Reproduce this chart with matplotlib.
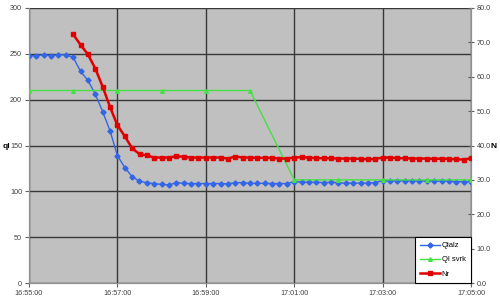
import matplotlib
matplotlib.use("Agg")
import matplotlib.pyplot as plt
import matplotlib.dates as mdates
from datetime import datetime, timedelta

plt.rcParams['font.family'] = ['Liberation Sans', 'DejaVu Sans']

start = datetime(2000, 1, 1, 16, 55, 0)

# Qlalz: every 10 s from 16:55:00 (left axis, ql)
qlalz = [248, 248, 249, 248, 249, 249, 246, 231, 221, 206,
         187, 166, 139, 126, 116, 111, 109.5, 108.4, 107.6, 107,
         109.5, 108.7, 108.5, 108.5, 108.5, 108.5, 108.5, 108.2, 109.5, 109.5,
         108.7, 108.7, 108.7, 108.5, 108.5, 108.5, 110.5, 110.2, 109.8, 109.8,
         109.5, 109.8, 109.5, 108.7, 109, 109, 109, 109.5, 111.6, 111.6,
         111.3, 111.6, 111.3, 111.3, 111.3, 111.3, 111, 111, 110.5, 110.5,
         110.5]
qlalz_sec = [10 * i for i in range(len(qlalz))]

# Nr: every 10 s from 16:56:00 (right axis, N)
nr = [72.3, 69.3, 66.5, 62.4, 57.1, 51.2, 45.9, 42.7, 39.2, 37.5,
      37.1, 36.5, 36.5, 36.5, 36.9, 36.7, 36.5, 36.5, 36.5, 36.5,
      36.5, 36.2, 36.8, 36.5, 36.5, 36.4, 36.4, 36.4, 36.2, 36.2,
      36.5, 36.6, 36.5, 36.3, 36.3, 36.3, 36.2, 36.2, 36.2, 36.1,
      36.0, 36.1, 36.5, 36.5, 36.3, 36.3, 36.2, 36.2, 36.2, 36.1,
      36.2, 36.1, 36.0, 35.9, 36.3]
nr_sec = [60 + 10 * i for i in range(len(nr))]

# Ql svrk: every 60 s from 16:55:00 (right axis)
qlsvrk = [56, 56, 56, 56, 56, 56, 30, 30, 30, 30, 30]
qlsvrk_sec = [60 * i for i in range(len(qlsvrk))]

t_q = [start + timedelta(seconds=s) for s in qlalz_sec]
t_n = [start + timedelta(seconds=s) for s in nr_sec]
t_g = [start + timedelta(seconds=s) for s in qlsvrk_sec]

fig = plt.figure(figsize=(5.0, 3.01), dpi=100)
ax = fig.add_axes([29/500, 18/301, 442/500, 275/301])
ax.set_facecolor('#C0C0C0')
ax2 = ax.twinx()

blue = '#3366E6'
green = '#44E044'
red = '#E00000'

l1, = ax.plot(t_q, qlalz, color=blue, lw=1.0, marker='D', ms=2.6, zorder=3)
l2, = ax2.plot(t_g, qlsvrk, color=green, lw=1.0, marker='^', ms=2.6, zorder=3)
l3, = ax2.plot(t_n, nr, color=red, lw=1.8, marker='s', ms=3.3, zorder=4)

ax.set_ylim(0, 300)
ax.set_yticks(range(0, 301, 50))
ax2.set_ylim(0, 80)
ax2.set_yticks(range(0, 81, 10))
ax2.yaxis.set_major_formatter(matplotlib.ticker.FormatStrFormatter('%.1f'))

ax.set_xlim(start, start + timedelta(minutes=10))
ax.set_xticks([start + timedelta(minutes=m) for m in range(0, 11, 2)])
ax.xaxis.set_major_formatter(mdates.DateFormatter('%H:%M:%S'))

ax.grid(True, color='#383838', lw=1.0)
ax.set_axisbelow(True)

for a in (ax, ax2):
    for s in a.spines.values():
        s.set_color('#909090')
        s.set_linewidth(0.8)
    a.spines['top'].set_visible(False)

ax.tick_params(axis='both', labelsize=5.2, colors='#606060', length=3, width=0.8, pad=2,
               labelcolor='#404040')
ax2.tick_params(axis='y', labelsize=5.2, colors='#606060', length=4, width=0.8, pad=2,
                direction='inout', labelcolor='#404040')

fig.text(6/500, 1 - 146/301, 'ql', fontsize=6, fontweight='bold', ha='center', va='center')
fig.text(494/500, 1 - 146/301, 'N', fontsize=6, fontweight='bold', ha='center', va='center')

leg = ax2.legend([l1, l2, l3], ['Qlalz', 'Ql svrk', 'Nr'], loc='lower right',
                 bbox_to_anchor=(1.0, 0.0), fontsize=5.5, frameon=True, fancybox=False,
                 borderaxespad=0, handlelength=2.6, handletextpad=0.2,
                 labelspacing=0.9, borderpad=0.7)
leg.get_frame().set_edgecolor('black')
leg.get_frame().set_linewidth(0.8)
leg.get_frame().set_facecolor('white')
leg.get_frame().set_alpha(1)

fig.savefig('out.png', dpi=100)
